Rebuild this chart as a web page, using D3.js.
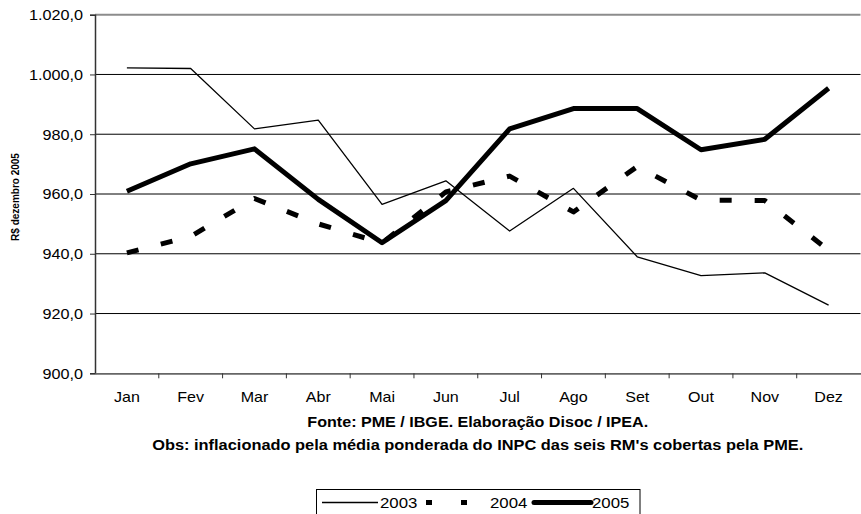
<!DOCTYPE html>
<html>
<head>
<meta charset="utf-8">
<script src="https://cdn.jsdelivr.net/npm/d3@7"></script>
<style>
  body { margin: 0; background: #fff; }
  svg { display: block; font-family: "Liberation Sans", Arial, sans-serif; }
</style>
</head>
<body>
<script>
// dados
const meses = ["Jan", "Fev", "Mar", "Abr", "Mai", "Jun", "Jul", "Ago", "Set", "Out", "Nov", "Dez"];
const anos = ["2003", "2004", "2005"];
const v2003 = [1002.2, 1002.0, 981.8, 984.7, 956.5, 964.4, 947.6, 961.9, 939.0, 932.7, 933.6, 922.8];
const v2004 = [940.3, 945.8, 958.5, 950.0, 943.6, 960.7, 966.0, 954.0, 969.2, 958.0, 957.8, 941.2];
const v2005 = [960.9, 970.1, 975.1, 958.2, 943.7, 957.8, 981.8, 988.6, 988.6, 974.8, 978.3, 995.4];
const yTicks = [900, 920, 940, 960, 980, 1000, 1020];

const W = 861, H = 514;
const mLeft = 95, mRight = 860.5, mTop = 14.7, mBottom = 373.3;

const svg = d3.select("body").append("svg")
    .attr("width", W)
    .attr("height", H);

const x = d3.scaleBand().domain(meses).range([mLeft, mRight]);
const y = d3.scaleLinear().domain([900, 1020]).range([mBottom, mTop]);

const fmt = v => d3.format(",.1f")(v).replace(/,/g, "#").replace(".", ",").replace(/#/g, ".");

// o texto do original é um pouco mais largo que a fonte
function alargar(sel, k) {
    sel.each(function() {
        const w = this.getComputedTextLength();
        d3.select(this).attr("textLength", w * k).attr("lengthAdjust", "spacingAndGlyphs");
    });
}

// grades horizontais
svg.append("g")
    .selectAll("line")
    .data(yTicks.filter(d => d > 900 && d < 1020))
    .enter().append("line")
    .attr("x1", mLeft).attr("x2", mRight)
    .attr("y1", d => y(d)).attr("y2", d => y(d))
    .attr("stroke", "#000").attr("stroke-width", 1);

// borda superior
svg.append("line")
    .attr("x1", mLeft).attr("x2", mRight)
    .attr("y1", y(1020)).attr("y2", y(1020))
    .attr("stroke", "#8c8c8c").attr("stroke-width", 2);

// eixo Y
const yAxis = svg.append("g")
    .attr("transform", `translate(${mLeft},0)`)
    .call(d3.axisLeft(y).tickValues(yTicks).tickSize(5).tickPadding(7).tickFormat(fmt));
yAxis.select(".domain").attr("stroke", "#333").attr("stroke-width", 1.5);
yAxis.selectAll(".tick line").attr("stroke", "#333");
yAxis.selectAll("text")
    .attr("font-size", "15px").attr("font-family", "Liberation Sans, Arial, sans-serif").attr("fill", "#000")
    .call(alargar, 1.08);

// eixo X
const xAxis = svg.append("g")
    .attr("transform", `translate(0,${mBottom})`)
    .call(d3.axisBottom(x).tickSize(0).tickPadding(18));
xAxis.select(".domain").attr("stroke", "#666").attr("stroke-width", 1.8);
xAxis.selectAll("text")
    .attr("font-size", "15px").attr("font-family", "Liberation Sans, Arial, sans-serif").attr("fill", "#000")
    .call(alargar, 1.07);

// marcas entre categorias
svg.append("g")
    .selectAll("line")
    .data(meses.slice(1))
    .enter().append("line")
    .attr("x1", d => x(d)).attr("x2", d => x(d))
    .attr("y1", mBottom).attr("y2", mBottom + 5)
    .attr("stroke", "#333");

// título eixo Y
svg.append("text")
    .attr("transform", "translate(19,197) rotate(-90)")
    .attr("text-anchor", "middle")
    .attr("font-size", "10px")
    .attr("font-weight", "bold")
    .text("R$ dezembro 2005");

// notas
svg.append("text")
    .attr("x", (mLeft + mRight) / 2).attr("y", 427)
    .attr("text-anchor", "middle")
    .attr("font-size", "14px").attr("font-weight", "bold")
    .text("Fonte: PME / IBGE. Elaboração Disoc / IPEA.")
    .call(alargar, 1.15);
svg.append("text")
    .attr("x", (mLeft + mRight) / 2).attr("y", 450)
    .attr("text-anchor", "middle")
    .attr("font-size", "14px").attr("font-weight", "bold")
    .text("Obs: inflacionado pela média ponderada do INPC das seis RM's cobertas pela PME.")
    .call(alargar, 1.17);

// linhas
const line = d3.line()
    .x((d, i) => x(meses[i]) + x.bandwidth() / 2)
    .y(d => y(d));

const estilos = [
    { valores: v2003, largura: 1.3, dash: null },
    { valores: v2004, largura: 5, dash: "12,23" },
    { valores: v2005, largura: 5, dash: null }
];

estilos.forEach(s => {
    svg.append("path")
        .datum(s.valores)
        .attr("d", line)
        .attr("fill", "none")
        .attr("stroke", "#000")
        .attr("stroke-width", s.largura)
        .attr("stroke-linejoin", "round")
        .attr("stroke-dasharray", s.dash);
});

// legenda
const leg = svg.append("g");
leg.append("rect")
    .attr("x", 316.5).attr("y", 489.5)
    .attr("width", 323.5).attr("height", 30)
    .attr("fill", "#fff").attr("stroke", "#000").attr("stroke-width", 1);

const legItens = [
    { x1: 322, x2: 378, tx: 380, largura: 1.3, dash: null },
    { x1: 426, x2: 469, tx: 490, largura: 5, dash: "6,29" },
    { x1: 534, x2: 591, tx: 592, largura: 5, dash: null }
];
legItens.forEach((d, i) => {
    leg.append("line")
        .attr("x1", d.x1).attr("x2", d.x2)
        .attr("y1", 502.5).attr("y2", 502.5)
        .attr("stroke", "#000")
        .attr("stroke-width", d.largura)
        .attr("stroke-linecap", i === 2 ? "round" : "butt")
        .attr("stroke-dasharray", d.dash);
    leg.append("text")
        .attr("x", d.tx).attr("y", 508)
        .attr("font-size", "15px")
        .text(anos[i])
        .call(alargar, 1.12);
});
</script>
</body>
</html>
